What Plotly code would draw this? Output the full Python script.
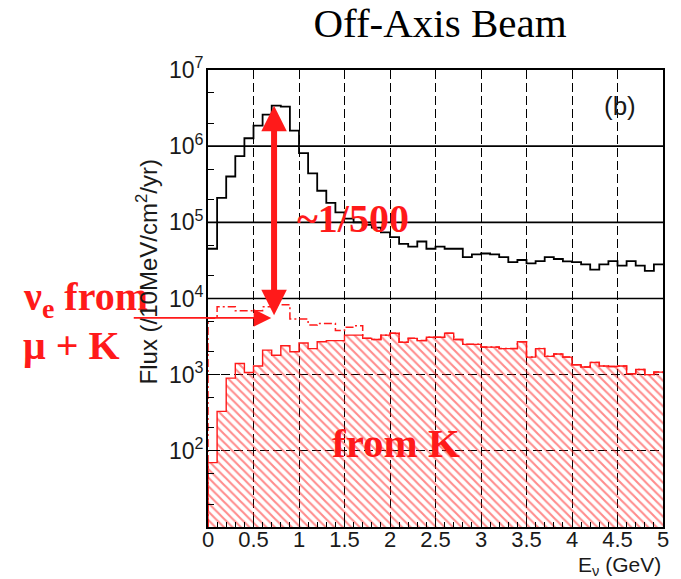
import math
import plotly.graph_objects as go

# ---------------- data ----------------
BIN_WIDTH = 0.1
bin_lo = [round(i * BIN_WIDTH, 1) for i in range(50)]          # lower bin edges (GeV)
bin_edges = bin_lo + [5.0]
bin_centers = [round(b + BIN_WIDTH / 2, 2) for b in bin_lo]

numu_flux = [4.5e4, 2.1e5, 4.0e5, 7.4e5, 1.27e6, 1.86e6, 2.6e6, 3.4e6, 3.3e6, 1.6e6,
             8.1e5, 4.4e5, 2.6e5, 1.8e5, 1.35e5, 1.12e5, 1.0e5, 9.3e4, 8.5e4, 7.4e4,
             6.4e4, 5.2e4, 4.8e4, 5.6e4, 4.5e4, 4.8e4, 4.5e4, 4.5e4, 3.5e4, 3.8e4,
             3.9e4, 3.8e4, 3.5e4, 3.0e4, 3.2e4, 2.9e4, 3.1e4, 3.5e4, 3.3e4, 3.07e4,
             3.0e4, 2.8e4, 2.4e4, 2.8e4, 3.1e4, 2.7e4, 3.1e4, 2.7e4, 2.3e4, 2.8e4]

nue_from_K = [70, 330, 900, 1400, 1070, 1300, 2100, 1800, 2400, 2000,
              2600, 2200, 2700, 2800, 2800, 3300, 3300, 3000, 2900, 3300,
              3500, 2660, 3000, 2800, 3100, 3100, 3500, 2900, 2500, 2500,
              2300, 2300, 2200, 2200, 2700, 1700, 2200, 1740, 1870, 1700,
              1350, 1260, 1450, 1300, 1280, 1300, 1030, 1170, 1000, 1080]

nue_total = [5500, 7800, 7800, 6900, 6900, 6900, 7800, 8300, 8300, 5400,
             5400, 4500, 4700, 4700, 3800, 4200, 4400, 3000, 2900, 3300,
             3500, 2660, 3000, 2800, 3100, 3100, 3500, 2900, 2500, 2500,
             2300, 2300, 2200, 2200, 2700, 1700, 2200, 1740, 1870, 1700,
             1350, 1260, 1450, 1300, 1280, 1300, 1030, 1170, 1000, 1080]

y_tickvals = [1e2, 1e3, 1e4, 1e5, 1e6, 1e7]
y_ticktext = ["10<sup>2</sup>", "10<sup>3</sup>", "10<sup>4</sup>",
              "10<sup>5</sup>", "10<sup>6</sup>", "10<sup>7</sup>"]
solid_grid_vals = [1e4, 1e5, 1e6]      # these horizontal grid lines are solid
x_tickvals = [0, 0.5, 1, 1.5, 2, 2.5, 3, 3.5, 4, 4.5, 5]
x_ticktext = ["0", "0.5", "1", "1.5", "2", "2.5", "3", "3.5", "4", "4.5", "5"]
Y_FLOOR = 10  # bottom of the log axis
Y_RANGE_LOG = [1, 7]

RED = "#ff1a1a"
SANS = "Liberation Sans, Arial, sans-serif"
SERIF = "Liberation Serif, Times New Roman, serif"
DASH = "9px,4px"

fig = go.Figure()

# hatched nu_e from K
fig.add_trace(go.Bar(
    x=bin_centers, y=nue_from_K, width=BIN_WIDTH,
    marker=dict(color="rgba(0,0,0,0)", line=dict(width=0),
                pattern=dict(shape="\\", fgcolor=RED, bgcolor="rgba(0,0,0,0)",
                             size=6, solidity=0.35, fillmode="overlay")),
    showlegend=False, hoverinfo="skip"))

# outline of K histogram
fig.add_trace(go.Scatter(
    x=[0] + bin_edges, y=[Y_FLOOR] + nue_from_K + [nue_from_K[-1]],
    mode="lines", line=dict(color=RED, width=1.4, shape="hv"),
    showlegend=False, hoverinfo="skip"))

# total nu_e (dash-dot)
fig.add_trace(go.Scatter(
    x=[0] + bin_edges, y=[Y_FLOOR] + nue_total + [nue_total[-1]],
    mode="lines", line=dict(color=RED, width=1.5, shape="hv", dash="8px,3px,2px,3px"),
    showlegend=False, hoverinfo="skip"))

# nu_mu flux
fig.add_trace(go.Scatter(
    x=bin_edges, y=numu_flux + [numu_flux[-1]],
    mode="lines", line=dict(color="black", width=1.8, shape="hv"),
    showlegend=False, hoverinfo="skip"))

W, H = 681, 579
L, R, T, B = 208, 15, 70, 52
pw, ph = W - L - R, H - T - B


def px(xp):
    return (xp - L) / pw


def py(yp):
    return (H - B - yp) / ph


def label(text, xp, yp, font, xanchor="center", **kw):
    return dict(text=text, x=px(xp), y=py(yp), xref="paper", yref="paper",
                xanchor=xanchor, yanchor="middle", showarrow=False, font=font, **kw)


annotations = [
    label("(b)", 623, 106, dict(family=SANS, size=26, color="#1a1a1a")),
    label("<b>~1/500</b>", 296, 218, dict(family=SERIF, size=40, color=RED), xanchor="left"),
    label("<b>from K</b>", 331, 443, dict(family=SERIF, size=41, color=RED), xanchor="left"),
    label("<b>ν<sub>e</sub> from</b>", 20, 299, dict(family=SERIF, size=40, color=RED), xanchor="left"),
    label("<b>μ + K</b>", 20, 345, dict(family=SERIF, size=40, color=RED), xanchor="left"),
    label("Flux (/10MeV/cm<sup>2</sup>/yr)", 147, 272,
          dict(family=SANS, size=24, color="#1a1a1a"), textangle=-90),
    label("E<sub>ν</sub> (GeV)", 666, 566, dict(family=SANS, size=21, color="#1a1a1a"),
          xanchor="right"),
    # thick double arrow (~1/500)
    dict(text="", x=0.726, y=6.53, ax=0.726, ay=3.76, xref="x", yref="y",
         axref="x", ayref="y", showarrow=True, arrowhead=2, arrowside="end+start",
         arrowsize=0.85, arrowwidth=6, arrowcolor=RED),
    # thin arrow from the nu_e label
    dict(text="", x=0.695, y=3.745, ax=-139, ay=0, xref="x", yref="y",
         showarrow=True, arrowhead=2, arrowsize=2.2, arrowwidth=1.6, arrowcolor=RED),
]

# solid horizontal grid lines (the others stay dashed)
shapes = [dict(type="line", xref="x domain", yref="y domain", x0=0, x1=1,
               y0=(math.log10(v) - Y_RANGE_LOG[0]) / (Y_RANGE_LOG[1] - Y_RANGE_LOG[0]),
               y1=(math.log10(v) - Y_RANGE_LOG[0]) / (Y_RANGE_LOG[1] - Y_RANGE_LOG[0]),
               layer="below", line=dict(color="black", width=1.6))
          for v in solid_grid_vals]

fig.update_layout(
    width=W, height=H,
    margin=dict(l=L, r=R, t=T, b=B),
    paper_bgcolor="white", plot_bgcolor="white",
    bargap=0,
    title=dict(text="Off-Axis Beam", x=440 / W, xanchor="center",
               y=1 - 23 / H, yanchor="middle", yref="container",
               font=dict(family=SERIF, size=41, color="black")),
    annotations=annotations,
    shapes=shapes,
    showlegend=False,
)

fig.update_xaxes(
    range=[0, 5], tickvals=x_tickvals, ticktext=x_ticktext,
    showgrid=True, gridcolor="black", gridwidth=1.3, griddash=DASH,
    zeroline=False, showline=True, linecolor="black", linewidth=1.8, mirror=True,
    ticks="inside", ticklen=9, tickcolor="black", tickwidth=1,
    minor=dict(dtick=0.1, ticks="inside", ticklen=5, tickcolor="black", showgrid=False),
    tickfont=dict(family=SANS, size=22, color="#1a1a1a"),
    ticklabelstandoff=-8,
)

fig.update_yaxes(
    type="log", range=Y_RANGE_LOG, tickvals=y_tickvals, ticktext=y_ticktext,
    showgrid=True, gridcolor="black", gridwidth=1.4, griddash=DASH,
    zeroline=False, showline=True, linecolor="black", linewidth=1.8, mirror=True,
    ticks="inside", ticklen=12, tickcolor="black", tickwidth=1,
    minor=dict(ticks="inside", ticklen=6, tickcolor="black", showgrid=False),
    tickfont=dict(family=SANS, size=23, color="#1a1a1a"),
    ticklabelstandoff=-2,
)

fig.write_html("out.html")
